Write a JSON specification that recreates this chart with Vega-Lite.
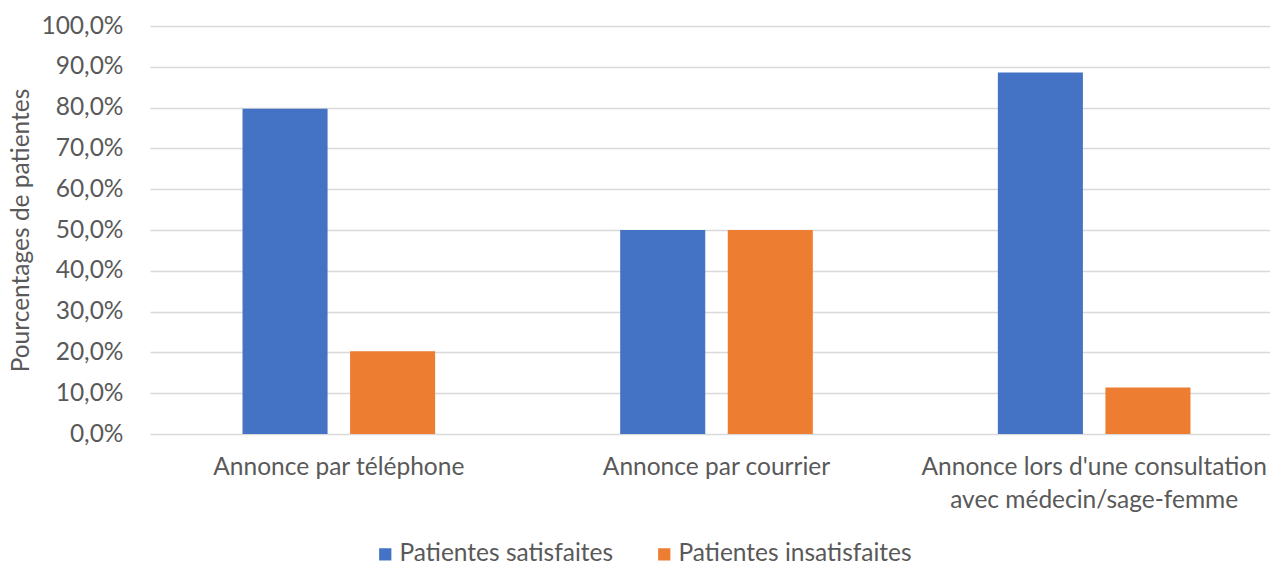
{
  "$schema": "https://vega.github.io/schema/vega-lite/v6.json",
  "width": 1133,
  "height": 408,
  "autosize": "none",
  "padding": {"left": 150, "top": 26, "right": 0, "bottom": 134},
  "background": "white",
  "data": {
    "values": [
      {"annonce": "Annonce par téléphone", "groupe": "Patientes satisfaites", "pct": 79.7},
      {"annonce": "Annonce par téléphone", "groupe": "Patientes insatisfaites", "pct": 20.3},
      {"annonce": "Annonce par courrier", "groupe": "Patientes satisfaites", "pct": 50.0},
      {"annonce": "Annonce par courrier", "groupe": "Patientes insatisfaites", "pct": 50.0},
      {"annonce": "Annonce lors d'une consultation avec médecin/sage-femme", "groupe": "Patientes satisfaites", "pct": 88.6},
      {"annonce": "Annonce lors d'une consultation avec médecin/sage-femme", "groupe": "Patientes insatisfaites", "pct": 11.4}
    ]
  },
  "config": {
    "font": "Lato",
    "view": {"stroke": null}
  },
  "mark": {"type": "bar"},
  "encoding": {
    "x": {
      "field": "annonce",
      "type": "nominal",
      "sort": null,
      "scale": {"paddingInner": 0, "paddingOuter": 0},
      "axis": {
        "title": null,
        "domain": false,
        "ticks": false,
        "labelAngle": 0,
        "labelFontSize": 24.5,
        "labelColor": "#595959",
        "labelPadding": 21,
        "labelLineHeight": 33,
        "labelBaseline": "top",
        "labelLimit": 500,
        "labelExpr": "length(datum.label) > 30 ? ['Annonce lors d\\'une consultation', 'avec médecin/sage-femme'] : datum.label"
      }
    },
    "xOffset": {
      "field": "groupe",
      "type": "nominal",
      "sort": ["Patientes satisfaites", "Patientes insatisfaites"],
      "scale": {"paddingInner": 0.2093, "paddingOuter": 0.86}
    },
    "y": {
      "field": "pct",
      "type": "quantitative",
      "scale": {"domain": [0, 100]},
      "axis": {
        "title": "Pourcentages de patientes",
        "titleFontSize": 24.5,
        "titleFontWeight": "normal",
        "titleColor": "#595959",
        "titlePadding": 7,
        "values": [0, 10, 20, 30, 40, 50, 60, 70, 80, 90, 100],
        "labelExpr": "replace(format(datum.value, '.1f'), '.', ',') + '%'",
        "labelFontSize": 24.5,
        "labelColor": "#595959",
        "labelPadding": 27,
        "domain": false,
        "ticks": false,
        "grid": true,
        "gridColor": "#d9d9d9",
        "gridWidth": 1.5
      }
    },
    "color": {
      "field": "groupe",
      "type": "nominal",
      "sort": ["Patientes satisfaites", "Patientes insatisfaites"],
      "scale": {"domain": ["Patientes satisfaites", "Patientes insatisfaites"], "range": ["#4472C4", "#ED7D31"]},
      "legend": {
        "title": null,
        "orient": "none",
        "direction": "horizontal",
        "legendX": 223,
        "legendY": 516,
        "symbolType": "square",
        "symbolSize": 150,
        "symbolStrokeWidth": 0,
        "symbolOpacity": 1,
        "labelFontSize": 24.5,
        "labelColor": "#595959",
        "labelOffset": 2,
        "columnPadding": 38,
        "labelLimit": 500
      }
    }
  }
}
